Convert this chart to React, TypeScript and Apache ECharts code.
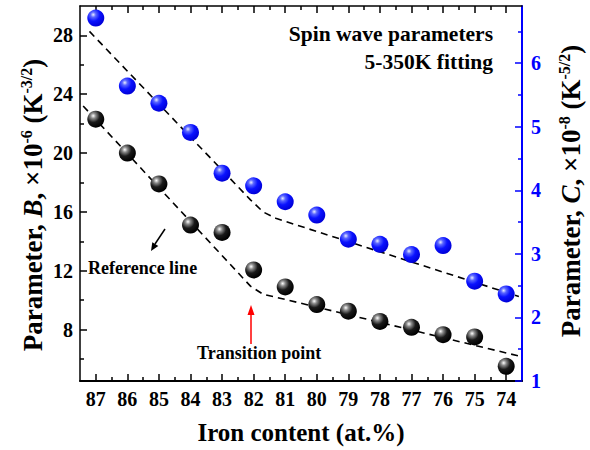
import React, { useEffect, useRef } from 'react';
import * as echarts from 'echarts';

// ---------- data ----------
const iron = [87, 86, 85, 84, 83, 82, 81, 80, 79, 78, 77, 76, 75, 74];
const paramB = [22.3, 20.0, 17.9, 15.1, 14.6, 12.05, 10.9, 9.7, 9.25, 8.55, 8.15, 7.65, 7.5, 5.5];
const paramC = [6.71, 5.64, 5.37, 4.91, 4.27, 4.07, 3.82, 3.61, 3.23, 3.15, 2.99, 3.13, 2.57, 2.37];

const refBX = [87.4, 82.1, 81.7, 81.2, 73.6];
const refBY = [23.2, 10.95, 10.4, 10.15, 6.2];
const refCX = [87.2, 82.1, 81.7, 81.3, 73.6];
const refCY = [6.5, 3.85, 3.66, 3.56, 2.33];

const ticksB = [8, 12, 16, 20, 24, 28];
const minorB = [6, 10, 14, 18, 22, 26];
const ticksC = [1, 2, 3, 4, 5, 6];
const minorC = [1.5, 2.5, 3.5, 4.5, 5.5, 6.5];
const minorX = [74.5, 75.5, 76.5, 77.5, 78.5, 79.5, 80.5, 81.5, 82.5, 83.5, 84.5, 85.5, 86.5];

const FONT = 'Liberation Serif, Times New Roman, serif';
const BLUE = '#0000ff';

const xBase = {
  type: 'value' as const,
  min: 73.5,
  max: 87.5,
  inverse: true,
  splitLine: { show: false },
};

function makeX(position: 'top' | 'bottom', major: boolean, showLine: boolean, showLabel: boolean) {
  return {
    ...xBase,
    position,
    axisLine: { show: showLine, lineStyle: { color: '#000', width: position === 'bottom' ? 2 : 1.5 } },
    axisTick: {
      show: true,
      inside: true,
      length: major ? 7 : 4,
      customValues: major ? iron : minorX,
      lineStyle: { color: '#000', width: 1.5 },
    },
    axisLabel: {
      show: showLabel,
      customValues: iron,
      formatter: (v: number) => String(v),
      color: '#000',
      fontFamily: FONT,
      fontWeight: 'bold',
      fontSize: 20,
      margin: 8,
    },
  };
}

function makeY(
  position: 'left' | 'right',
  min: number,
  max: number,
  major: number[] | null,
  minor: number[] | null,
  color: string,
  lineWidth: number,
) {
  return {
    type: 'value' as const,
    position,
    min,
    max,
    splitLine: { show: false },
    axisLine: { show: !!major, lineStyle: { color, width: lineWidth } },
    axisTick: {
      show: true,
      inside: true,
      length: major ? 7 : 4,
      customValues: major || minor,
      lineStyle: { color, width: 1.5 },
    },
    axisLabel: {
      show: !!major,
      customValues: major || [],
      color,
      fontFamily: FONT,
      fontWeight: 'bold',
      fontSize: 20,
      margin: position === 'left' ? 7 : 9,
    },
  };
}

const ballBlack = {
  type: 'radial',
  x: 0.35,
  y: 0.3,
  r: 0.7,
  colorStops: [
    { offset: 0, color: '#ffffff' },
    { offset: 0.22, color: '#8a8a8a' },
    { offset: 0.55, color: '#1a1a1a' },
    { offset: 1, color: '#000000' },
  ],
};
const ballBlue = {
  type: 'radial',
  x: 0.35,
  y: 0.3,
  r: 0.7,
  colorStops: [
    { offset: 0, color: '#e8ecff' },
    { offset: 0.22, color: '#5a66ff' },
    { offset: 0.55, color: '#0a12ff' },
    { offset: 1, color: '#0000d8' },
  ],
};

const boldText = (text: string, x: number, y: number, size: number, align: string, color = '#000') => ({
  type: 'text',
  x,
  y,
  style: {
    text,
    fill: color,
    fontFamily: FONT,
    fontWeight: 'bold',
    fontSize: size,
    textAlign: align,
    textVerticalAlign: 'middle',
  },
});

const titleRich = {
  n: { fontSize: 27, fontWeight: 'bold', fontFamily: FONT, lineHeight: 30 },
  i: { fontSize: 27, fontWeight: 'bold', fontStyle: 'italic', fontFamily: FONT, lineHeight: 30 },
  s: { fontSize: 16, fontWeight: 'bold', fontFamily: FONT, verticalAlign: 'top', lineHeight: 30 },
};

const option = {
  animation: false,
  backgroundColor: '#fff',
  grid: { left: 80, right: 68, top: 6, bottom: 69, containLabel: false },
  xAxis: [
    makeX('bottom', true, true, true),
    makeX('bottom', false, false, false),
    makeX('top', true, true, false),
    makeX('top', false, false, false),
  ],
  yAxis: [
    makeY('left', 4.5, 30, ticksB, null, '#000', 1.5),
    makeY('left', 4.5, 30, null, minorB, '#000', 1.5),
    makeY('right', 1, 6.9, ticksC, null, BLUE, 2),
    makeY('right', 1, 6.9, null, minorC, BLUE, 2),
  ],
  series: [
    {
      type: 'line',
      xAxisIndex: 0,
      yAxisIndex: 0,
      data: refBX.map((x, k) => [x, refBY[k]]),
      showSymbol: false,
      symbol: 'none',
      lineStyle: { color: '#000', width: 1.6, type: [7, 5] },
      z: 2,
    },
    {
      type: 'line',
      xAxisIndex: 0,
      yAxisIndex: 2,
      data: refCX.map((x, k) => [x, refCY[k]]),
      showSymbol: false,
      symbol: 'none',
      lineStyle: { color: '#000', width: 1.6, type: [7, 5] },
      z: 2,
    },
    {
      type: 'scatter',
      xAxisIndex: 0,
      yAxisIndex: 0,
      data: iron.map((x, k) => [x, paramB[k]]),
      symbolSize: 17,
      itemStyle: { color: ballBlack, opacity: 1 },
      z: 3,
    },
    {
      type: 'scatter',
      xAxisIndex: 0,
      yAxisIndex: 2,
      data: iron.map((x, k) => [x, paramC[k]]),
      symbolSize: 17,
      itemStyle: { color: ballBlue, opacity: 1 },
      z: 3,
    },
  ],
  graphic: [
    boldText('Spin wave parameters', 493, 34, 21.5, 'right'),
    boldText('5-350K fitting', 493, 62, 21.5, 'right'),
    boldText('Reference line', 88, 268, 18, 'left'),
    boldText('Transition point', 197, 353, 18, 'left'),
    boldText('Iron content (at.%)', 301, 432, 25, 'center'),
    {
      type: 'line',
      shape: { x1: 165, y1: 229, x2: 155, y2: 244 },
      style: { stroke: '#000', lineWidth: 1.5 },
    },
    {
      type: 'polygon',
      shape: { points: [[151, 251], [158.3, 246.1], [152.3, 242.3]] },
      style: { fill: '#000' },
    },
    {
      type: 'line',
      shape: { x1: 251, y1: 344, x2: 251, y2: 313 },
      style: { stroke: '#ff0000', lineWidth: 1.5 },
    },
    {
      type: 'polygon',
      shape: { points: [[251, 305], [254.5, 315], [247.5, 315]] },
      style: { fill: '#ff0000' },
    },
    {
      type: 'text',
      x: 33,
      y: 205,
      rotation: Math.PI / 2,
      style: {
        text: '{n|Parameter, }{i|B}{n|, ×10}{s|-6}{n| (K}{s|-3/2}{n|)}',
        rich: titleRich,
        fill: '#000',
        textAlign: 'center',
        textVerticalAlign: 'middle',
      },
    },
    {
      type: 'text',
      x: 571,
      y: 191,
      rotation: Math.PI / 2,
      style: {
        text: '{n|Parameter, }{i|C}{n|, ×10}{s|-8}{n| (K}{s|-5/2}{n|)}',
        rich: titleRich,
        fill: '#000',
        textAlign: 'center',
        textVerticalAlign: 'middle',
      },
    },
  ],
};

export default function App() {
  const ref = useRef<HTMLDivElement>(null);
  useEffect(() => {
    document.body.style.margin = '0';
    const chart = echarts.init(ref.current!, null, { renderer: 'svg' });
    chart.setOption(option as any);
    return () => chart.dispose();
  }, []);
  return <div ref={ref} style={{ width: 590, height: 450 }} />;
}
